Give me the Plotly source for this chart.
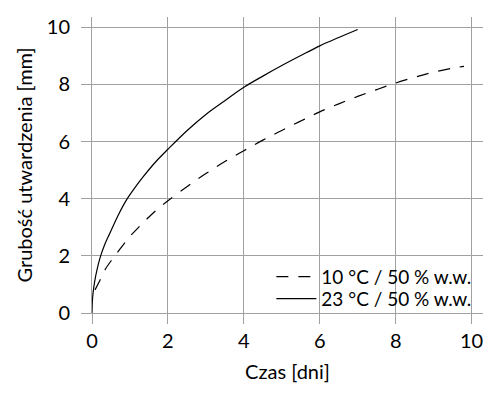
import plotly.graph_objects as go

# Dashed series: 10 °C / 50 % w.w.
t_10 = [0.08, 0.2, 0.35, 0.5, 0.75, 1.0, 1.25, 1.5, 1.75, 2.0, 2.5, 3.0, 3.5, 4.0, 4.5, 5.0, 5.5, 6.0, 6.5, 7.0, 7.5, 8.0, 8.5, 9.0, 9.5, 9.8]
h_10 = [0.81, 1.12, 1.53, 1.82, 2.26, 2.68, 3.03, 3.36, 3.66, 3.93, 4.42, 4.88, 5.30, 5.68, 6.05, 6.39, 6.72, 7.04, 7.32, 7.58, 7.82, 8.05, 8.25, 8.43, 8.57, 8.63]

# Solid series: 23 °C / 50 % w.w.
t_23 = [0.0, 0.01, 0.03, 0.07, 0.13, 0.21, 0.33, 0.47, 0.7, 0.91, 1.15, 1.35, 1.65, 2.0, 2.5, 3.0, 3.5, 4.0, 4.5, 5.0, 5.5, 6.0, 6.5, 7.0]
h_23 = [0.0, 0.42, 0.72, 1.10, 1.50, 1.92, 2.38, 2.79, 3.45, 3.96, 4.42, 4.77, 5.25, 5.73, 6.38, 6.95, 7.43, 7.90, 8.29, 8.66, 9.01, 9.35, 9.64, 9.92]

names = ["10 °C / 50 % w.w.", "23 °C / 50 % w.w."]
x_ticks = [0, 2, 4, 6, 8, 10]
y_ticks = [0, 2, 4, 6, 8, 10]

FONT = "Lato"
GRID = "#a0a0a0"

fig = go.Figure()
fig.add_trace(go.Scatter(x=t_10, y=h_10, mode="lines", name=names[0], legend="legend",
                         line=dict(color="black", width=1.2, dash="12px,10px", shape="spline", smoothing=1.0)))
fig.add_trace(go.Scatter(x=t_23, y=h_23, mode="lines", name=names[1], legend="legend2",
                         line=dict(color="black", width=1.2, shape="spline", smoothing=1.0)))

leg_common = dict(x=0.983, xanchor="right", yanchor="middle", bgcolor="rgba(0,0,0,0)", borderwidth=0,
                  font=dict(family=FONT, size=19, color="black"), itemwidth=40)

fig.update_layout(
    width=497, height=400,
    margin=dict(l=84, r=22, t=9, b=95),
    paper_bgcolor="white", plot_bgcolor="white",
    font=dict(family=FONT, color="black"),
    showlegend=True,
    legend=dict(y=0.1224, **leg_common),
    legend2=dict(y=0.0482, **leg_common),
    # white legend panel hiding the gridlines behind the legend
    shapes=[dict(type="rect", xref="paper", yref="paper", x0=0.404, x1=0.995, y0=0.0045, y1=0.18,
                 fillcolor="white", line=dict(width=0), layer="between")],
    xaxis=dict(range=[0, 10.3], tickvals=x_ticks, ticks="outside", ticklen=10,
               tickcolor=GRID, tickwidth=1, showgrid=True, gridcolor=GRID, gridwidth=1,
               showline=True, linecolor=GRID, linewidth=1, zeroline=False, automargin=False,
               tickfont=dict(family=FONT, size=20),
               title=dict(text="Czas [dni]", font=dict(family=FONT, size=20), standoff=13)),
    yaxis=dict(range=[0, 10.36], tickvals=y_ticks, ticks="outside", ticklen=10,
               tickcolor=GRID, tickwidth=1, showgrid=True, gridcolor=GRID, gridwidth=1,
               showline=True, linecolor=GRID, linewidth=1, zeroline=False, automargin=False,
               tickfont=dict(family=FONT, size=20), ticklabelstandoff=7,
               title=dict(text="Grubość utwardzenia [mm]", font=dict(family=FONT, size=20), standoff=8)),
)

fig.write_html("out.html")
